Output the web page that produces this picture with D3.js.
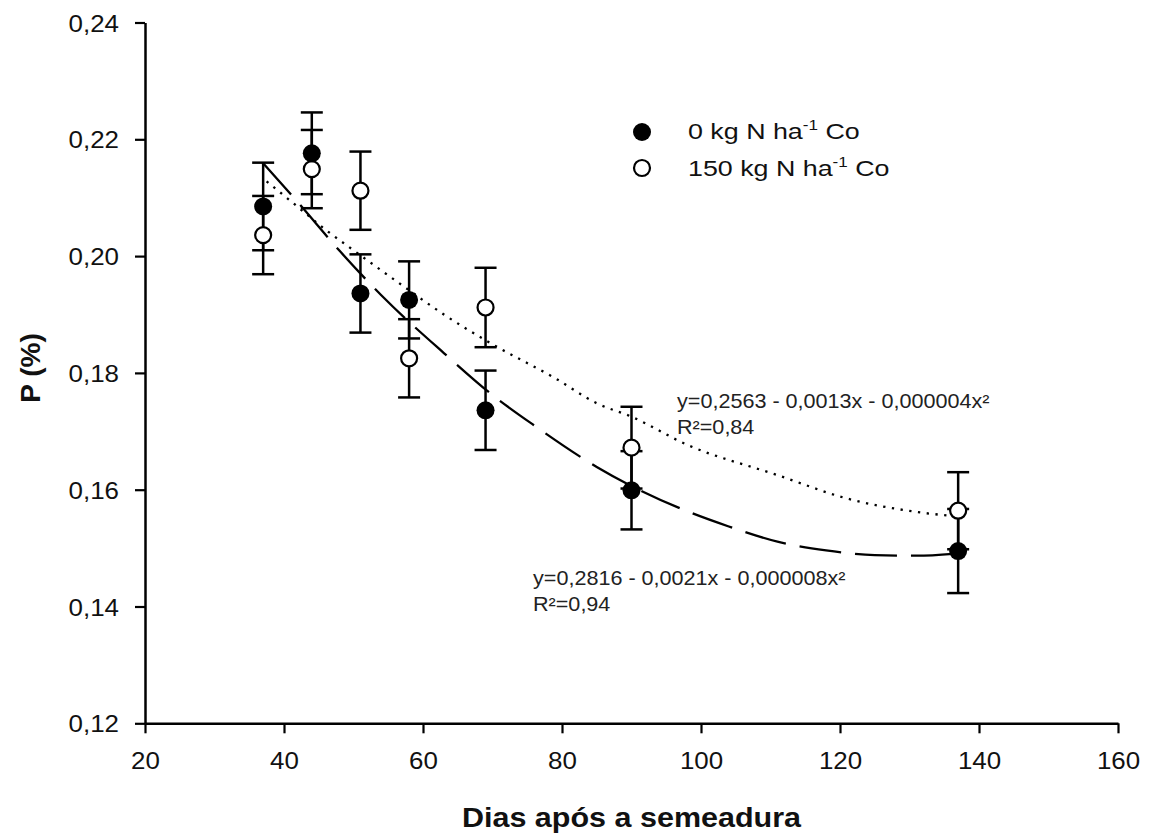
<!DOCTYPE html>
<html>
<head>
<meta charset="utf-8">
<script src="https://cdn.jsdelivr.net/npm/d3@7"></script>
<style>
  html, body { margin: 0; padding: 0; background: #fff; }
  svg { display: block; font-family: "Liberation Sans", Arial, sans-serif; }
</style>
</head>
<body>
<svg id="chart" width="1151" height="838"></svg>
<script>
// ---- data ----
const days = [37, 44, 51, 58, 69, 90, 137];
const p0 = [0.2085, 0.2176, 0.1936, 0.1925, 0.1736, 0.1599, 0.1495];
const p0err = [0.0075, 0.0070, 0.0067, 0.0066, 0.0068, 0.0067, 0.0072];
const p150 = [0.2036, 0.2149, 0.2112, 0.1825, 0.1912, 0.1672, 0.1564];
const p150err = [0.0067, 0.0067, 0.0067, 0.0067, 0.0068, 0.0070, 0.0066];

// fitted curves
const fit0X = [37, 42, 48, 54, 63, 70, 76, 85, 97, 104, 111, 118, 125, 131, 137];
const fit0Y = [0.2159, 0.2092, 0.2009, 0.1933, 0.1834, 0.1762, 0.1710, 0.1639, 0.1568, 0.1537, 0.1511, 0.1496, 0.1488, 0.1487, 0.1491];
const fit150X = [37.5, 41.6, 46, 50, 57, 63, 70, 79, 85, 90, 98, 111, 121, 131, 137];
const fit150Y = [0.2128, 0.2088, 0.2045, 0.2010, 0.1950, 0.1900, 0.1849, 0.1791, 0.1748, 0.1725, 0.1677, 0.1625, 0.1585, 0.1562, 0.1554];

const xTicks = [20, 40, 60, 80, 100, 120, 140, 160];
const yTicks = [0.12, 0.14, 0.16, 0.18, 0.20, 0.22, 0.24];
const legendLabels = ["0 kg N ha", "150 kg N ha"];
const eq0 = ["y=0,2816 - 0,0021x - 0,000008x²", "R²=0,94"];
const eq150 = ["y=0,2563 - 0,0013x - 0,000004x²", "R²=0,84"];
const xTitle = "Dias após a semeadura";
const yTitle = "P (%)";

// ---- scales ----
const svg = d3.select("#chart");
const x = d3.scaleLinear().domain([20, 160]).range([145, 1118]);
const y = d3.scaleLinear().domain([0.12, 0.24]).range([723.3, 22.5]);
const fmt = v => d3.format(".2f")(v).replace(".", ",");

// ---- axes ----
const xAxis = svg.append("g").attr("transform", `translate(0,${y(0.12)})`)
  .call(d3.axisBottom(x).tickValues(xTicks).tickSize(10).tickSizeOuter(0).tickFormat(d3.format("d")));
const yAxis = svg.append("g").attr("transform", `translate(${x(20)},0)`)
  .call(d3.axisLeft(y).tickValues(yTicks).tickSize(10).tickSizeOuter(0).tickFormat(fmt));
[xAxis, yAxis].forEach(a => {
  a.select(".domain").attr("stroke", "#000").attr("stroke-width", 2.5);
  a.selectAll(".tick line").attr("stroke", "#000").attr("stroke-width", 2.2);
  a.selectAll(".tick text").attr("fill", "#111").attr("font-size", 24).attr("font-family", "Liberation Sans, Arial, sans-serif");
});
xAxis.selectAll(".tick text").attr("dy", null).attr("y", 0)
  .attr("transform", "translate(0,46) scale(1.08,1)");
yAxis.selectAll(".tick text").attr("dy", "0.36em").attr("x", 0)
  .attr("transform", "translate(-26,0) scale(1.08,1)");

// axis titles
svg.append("text")
  .attr("transform", `translate(${(x(20) + x(160)) / 2},827) scale(1.09,1)`)
  .attr("text-anchor", "middle").attr("font-weight", "bold").attr("font-size", 28)
  .attr("fill", "#111").text(xTitle);
svg.append("text")
  .attr("transform", "translate(40,368) rotate(-90)")
  .attr("text-anchor", "middle").attr("font-weight", "bold").attr("font-size", 28)
  .attr("fill", "#111").text(yTitle);

// ---- fitted curves ----
const line = d3.line().x(d => x(d[0])).y(d => y(d[1])).curve(d3.curveMonotoneX);
svg.append("path").datum(d3.zip(fit0X, fit0Y)).attr("d", line)
  .attr("fill", "none").attr("stroke", "#000").attr("stroke-width", 2.3)
  .attr("stroke-dasharray", "42,14");
svg.append("path").datum(d3.zip(fit150X, fit150Y)).attr("d", line)
  .attr("fill", "none").attr("stroke", "#000").attr("stroke-width", 2.3)
  .attr("stroke-dasharray", "2.3,6.5");

// ---- error bars ----
function errorBars(vals, errs) {
  const g = svg.append("g").attr("stroke", "#000").attr("stroke-width", 2.5);
  const data = days.map((d, i) => ({ d, v: vals[i], e: errs[i] }));
  g.selectAll("line.v").data(data).join("line")
    .attr("x1", p => x(p.d)).attr("x2", p => x(p.d))
    .attr("y1", p => y(p.v + p.e)).attr("y2", p => y(p.v - p.e));
  g.selectAll("line.t").data(data).join("line")
    .attr("x1", p => x(p.d) - 11).attr("x2", p => x(p.d) + 11)
    .attr("y1", p => y(p.v + p.e)).attr("y2", p => y(p.v + p.e));
  g.selectAll("line.b").data(data).join("line")
    .attr("x1", p => x(p.d) - 11).attr("x2", p => x(p.d) + 11)
    .attr("y1", p => y(p.v - p.e)).attr("y2", p => y(p.v - p.e));
}
errorBars(p0, p0err);
errorBars(p150, p150err);

// ---- markers ----
svg.append("g").selectAll("circle").data(days).join("circle")
  .attr("cx", (d) => x(d)).attr("cy", (d, i) => y(p150[i])).attr("r", 8)
  .attr("fill", "#fff").attr("stroke", "#000").attr("stroke-width", 2.2);
svg.append("g").selectAll("circle").data(days).join("circle")
  .attr("cx", (d) => x(d)).attr("cy", (d, i) => y(p0[i])).attr("r", 9)
  .attr("fill", "#000");

// ---- legend ----
const leg = svg.append("g");
leg.append("circle").attr("cx", 642).attr("cy", 132).attr("r", 9).attr("fill", "#000");
leg.append("circle").attr("cx", 642).attr("cy", 168).attr("r", 8).attr("fill", "#fff")
  .attr("stroke", "#000").attr("stroke-width", 2.2);
[139, 176].forEach((by, i) => {
  const t = leg.append("text").attr("transform", `translate(688,${by}) scale(1.22,1)`)
    .attr("font-size", 22).attr("fill", "#111");
  t.append("tspan").text(legendLabels[i]);
  t.append("tspan").attr("font-size", 14).attr("dy", -9).text("-1");
  t.append("tspan").attr("dy", 9).text(" Co");
});

// ---- equations ----
function eq(lines, ex, ey) {
  lines.forEach((s, i) => {
    svg.append("text").attr("transform", `translate(${ex},${ey + i * 26}) scale(1.08,1)`)
      .attr("font-size", 20).attr("fill", "#222").text(s);
  });
}
eq(eq150, 677, 408);
eq(eq0, 533, 585);
</script>
</body>
</html>
